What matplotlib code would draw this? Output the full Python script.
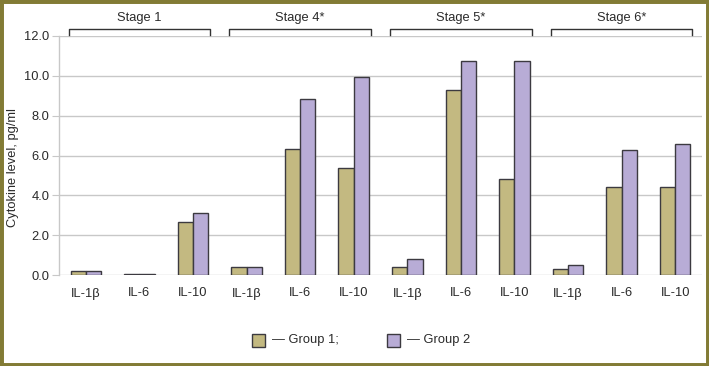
import numpy as np
import matplotlib
matplotlib.use('Agg')
import matplotlib.pyplot as plt
from matplotlib.transforms import blended_transform_factory
from matplotlib.patches import Rectangle

plt.rcParams['font.family'] = ['Liberation Sans', 'DejaVu Sans']

# data
stages = ['Stage 1', 'Stage 4*', 'Stage 5*', 'Stage 6*']
cytokines = ['IL-1β', 'IL-6', 'IL-10']
group1 = [0.18, 0.03, 2.65,
          0.38, 6.35, 5.35,
          0.38, 9.30, 4.80,
          0.28, 4.42, 4.42]
group2 = [0.20, 0.03, 3.10,
          0.40, 8.85, 9.95,
          0.78, 10.75, 10.75,
          0.48, 6.30, 6.60]
labels = cytokines * len(stages)

c1 = '#c3b981'
c2 = '#b8acd6'
edge = '#3c3a40'
grid_c = '#c8c8c8'
txt_c = '#2a2a2a'

W, H = 709, 366
fig = plt.figure(figsize=(W / 100, H / 100), dpi=100)
fig.patch.set_facecolor('white')

# axes placed in pixel coords
left, right, top, bottom = 59, 702, 36, 275
ax = fig.add_axes([left / W, 1 - bottom / H, (right - left) / W, (bottom - top) / H])

x = np.arange(len(labels))
w = 0.285
ax.bar(x - w / 2, group1, w, color=c1, edgecolor=edge, linewidth=1.0, zorder=3)
ax.bar(x + w / 2, group2, w, color=c2, edgecolor=edge, linewidth=1.0, zorder=3)

ax.set_xlim(-0.5, 11.5)
ax.set_ylim(0, 12)
ax.set_yticks(np.arange(0, 12.1, 2))
ax.set_yticklabels(['%.1f' % v for v in np.arange(0, 12.1, 2)])
ax.set_xticks(x)
ax.set_xticklabels(labels)
ax.yaxis.grid(True, color=grid_c, linewidth=1.0, zorder=0)
ax.set_axisbelow(True)

for s in ['top', 'right', 'bottom']:
    ax.spines[s].set_visible(False)
ax.spines['left'].set_color(grid_c)
ax.spines['left'].set_linewidth(1.0)
ax.tick_params(axis='y', length=5, color=grid_c, pad=2, labelsize=9.3, labelcolor=txt_c)
ax.tick_params(axis='x', length=0, pad=9, labelsize=9.3, labelcolor=txt_c)

ax.set_ylabel('Cytokine level, pg/ml', fontsize=9.3, color=txt_c)
ax.yaxis.set_label_coords((19 - left) / (right - left), (bottom - 168) / (bottom - top))

# stage brackets above the plot
trans = blended_transform_factory(ax.transData, fig.transFigure)
y_top = 1 - 29 / H
y_bot = 1 - 35 / H
inset = 0.18
for i, st in enumerate(stages):
    x0 = 3 * i - 0.5 + inset
    x1 = 3 * i + 2.5 - inset
    ax.plot([x0, x0, x1, x1], [y_bot, y_top, y_top, y_bot], color='#333333',
            linewidth=1.0, transform=trans, clip_on=False)
    ax.text(3 * i + 1, 1 - 18 / H, st, transform=trans, ha='center', va='center',
            fontsize=9.3, color=txt_c)

# legend drawn manually
for px, txt, col in [(252, '— Group 1;', c1), (387, '— Group 2', c2)]:
    fig.patches.append(Rectangle((px / W, 1 - 347 / H), 13 / W, 13 / H,
                                 transform=fig.transFigure, facecolor=col,
                                 edgecolor=edge, linewidth=1.0))
    fig.text((px + 20) / W, 1 - 340.5 / H, txt, ha='left', va='center',
             fontsize=9.3, color=txt_c)

# olive frame
fig.patches.append(Rectangle((0, 0), 1, 1, transform=fig.transFigure,
                             facecolor='none', edgecolor='#827b35', linewidth=5))

fig.savefig('out.png', dpi=100)
